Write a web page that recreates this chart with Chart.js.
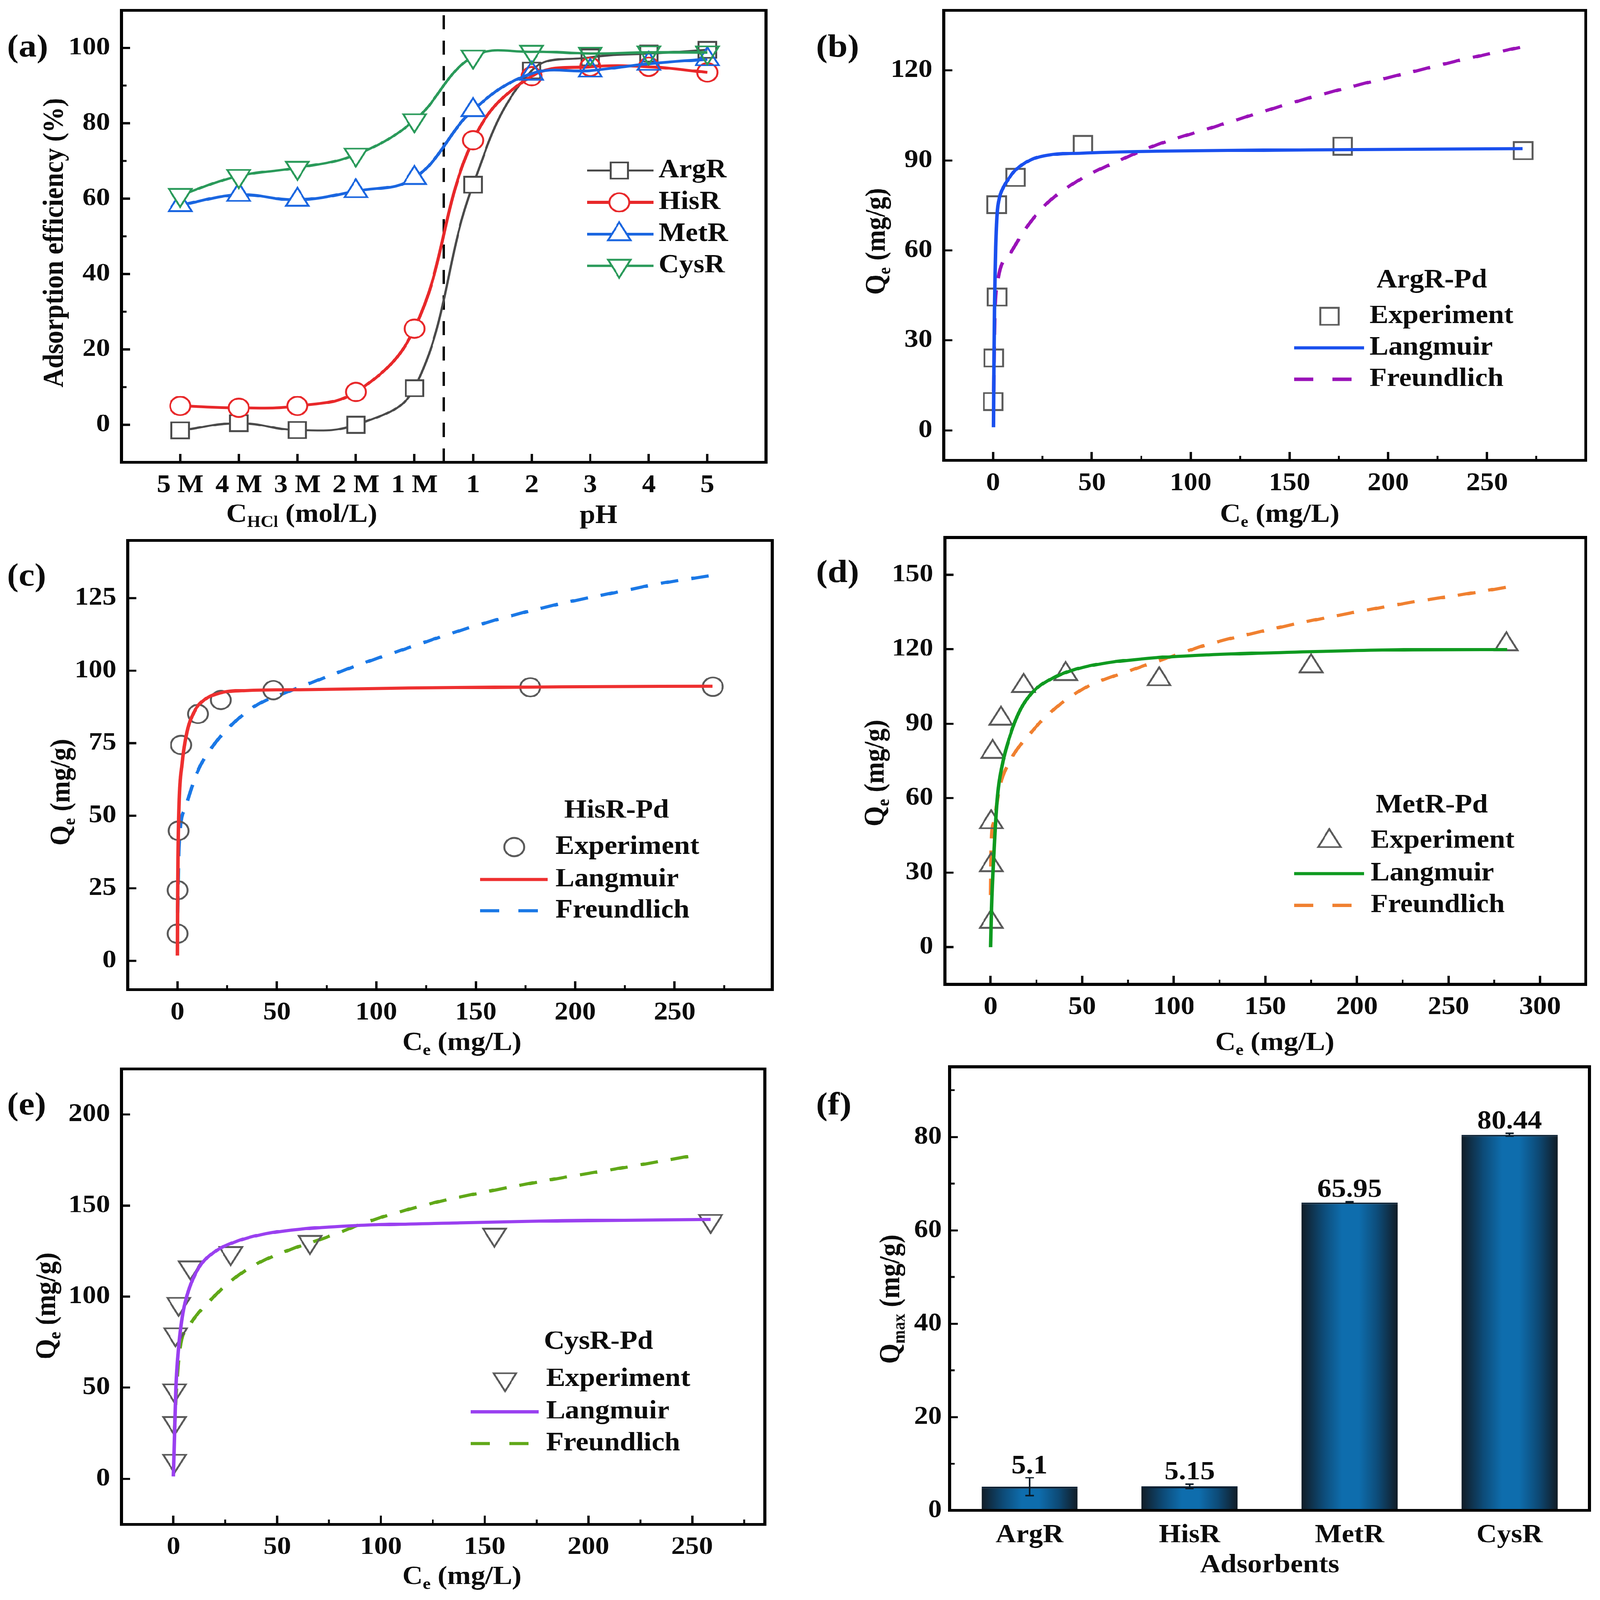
<!DOCTYPE html>
<html><head><meta charset="utf-8">
<style>html,body{margin:0;padding:0;background:#fff;overflow:hidden}
#page{position:absolute;left:0;top:0;width:4157px;height:4522px;background:#fff;overflow:hidden;transform-origin:0 0}
canvas{position:absolute;display:block}</style>
<script src="https://cdn.jsdelivr.net/npm/chart.js@4/dist/chart.umd.js"></script>
</head><body><div id="page"></div>
<script>
// ---------- panel (a)
const aCategories=['5 M','4 M','3 M','2 M','1 M','1','2','3','4','5'];
const aArgR=[-1.5,0.4,-1.4,0,9.7,63.7,94,97.5,98.5,99.5];
const aHisR=[5,4.5,5,8.7,25.5,75.5,92.5,95,95,93.5];
const aMetR=[58.3,61,59.7,62,65.5,83.5,93.2,94,95.8,97];
const aCysR=[61,66,68.2,71.7,80.8,97.7,99,98.5,98.8,98.8];
const aYTicks=[0,20,40,60,80,100];
const aDivider=4.5;
// ---------- panel (b)
const bExpX=[0,0.3,2,1.8,11.3,45.5,177,268.3];
const bExpY=[9.6,24.1,44.4,75.2,84.3,95.3,94.7,93.2];
const bLangX=[0.2,0.4,0.7,1,1.3,2,3,5,8,11.3,18.8,29,44.5,83,160,268];
const bLangY=[1,20,40,52,61,72,77,80.8,84,86.7,90.1,91.8,92.4,93,93.5,93.9];
const bFreuX=[0.3,0.8,2,8.5,16.2,26.5,44.5,62.5,83,108.8,134.5,160,186,211.7,237.4,268];
const bFreuY=[13,36,48.4,58.7,67,75.2,83.8,89.5,95.2,100.5,105.8,110.8,115.3,119.4,123.5,127.8];
const bYTicks=[0,30,60,90,120];
const bXTicks=[0,50,100,150,200,250];
// ---------- panel (c)
const cExpX=[0,0,0.5,1.8,10.3,21.8,48.2,177.4,269.2];
const cExpY=[9.3,24.3,44.8,74.4,85.1,89.9,93.3,94.3,94.5];
const cLangX=[0,0.1,0.3,0.8,2.3,4.6,8.5,13.6,21.3,34,65,116,193,269];
const cLangY=[1.8,18.3,36,53.7,67.8,78.4,86,90,92.3,93.2,93.5,94,94.5,94.7];
const cFreuX=[0.1,0.8,3.8,9.7,17.4,26.4,39.2,54.6,70,90.5,116,141.8,167.4,193,218.7,244.4,270];
const cFreuY=[16.5,39.5,52.5,64.6,73.7,80.8,87.9,92.5,96.6,101.9,107.9,113.8,118.9,123.2,126.8,130.3,133];
const cYTicks=[0,25,50,75,100,125];
const cXTicks=[0,50,100,150,200,250];
// ---------- panel (d)
const dExpX=[0.3,0.3,0.3,1.1,5.6,18,41,92,175,281.6];
const dExpY=[10.2,33,50.3,78.6,92,105.2,110,107.9,113.1,122];
const dLangX=[0,0.5,1.7,3.6,6.4,10.6,16.2,23,33,46.8,63.5,91.4,119,175,230.6,282];
const dLangY=[0,15.7,36.5,60,73.8,85.2,95.6,102.8,108,112,114.5,116.6,117.7,119,119.8,119.9];
const dFreuX=[0,0.3,1.7,5,10.6,21.7,35.7,52.4,74.7,97,119,147,175,202.8,230.6,258.5,282];
const dFreuY=[21,40.6,50.3,64.9,75,86.2,96.5,104.8,111,116.6,122,127,131.5,135.4,139,142.1,145];
const dYTicks=[0,30,60,90,120,150];
const dXTicks=[0,50,100,150,200,250,300];
// ---------- panel (e)
const eExpX=[0.5,0.5,0.5,1,2.5,8.1,27.6,65.8,154.7,258.9];
const eExpY=[9.8,30.6,48.5,79.3,96,116,123.9,130,134,141.5];
const eLangX=[0,0.5,1.2,2.5,4.4,7.4,12.3,19.7,29.6,44.3,64,88.7,138,187,258.9];
const eLangY=[1.3,21,49.5,72,90,104,116,124.5,130,134.5,137.3,139,140.5,141.6,142.4];
const eFreuX=[0.5,1.2,3,7.4,16,27,39.4,56.7,73.9,96,125.6,152.7,187,211.8,250];
const eFreuY=[25,43.8,70.3,83.5,95.8,108,117.5,126,132.6,142,151.5,158,165.2,169.8,177.3];
const eYTicks=[0,50,100,150,200];
const eXTicks=[0,50,100,150,200,250];
// ---------- panel (f)
const fCategories=['ArgR','HisR','MetR','CysR'];
const fValues=[5.1,5.15,65.95,80.44];
const fErrors=[1.9,0.5,0.15,0.3];
const fValueLabels=['5.1','5.15','65.95','80.44'];
const fYTicks=[0,20,40,60,80];

document.getElementById('page').style.transform=`scale(${innerWidth/4157},${innerHeight/4522})`;

const FONT='"Liberation Serif"';
const INK='#0c0c0c';
const xy=(X,Y)=>X.map((x,i)=>({x,y:Y[i]}));
const multiples=(step,to)=>{const r=[];for(let v=step;v<to;v+=step*2)r.push(v);return r;};

function rich(ctx,segs,x,y,size,rot){
  ctx.save();ctx.translate(x,y);if(rot)ctx.rotate(rot);
  ctx.fillStyle=INK;ctx.textBaseline='alphabetic';ctx.textAlign='left';
  let w=0;
  segs.forEach(s=>{ctx.font=`bold ${s.sub?size*0.62:size}px ${FONT}`;w+=ctx.measureText(s.t).width;});
  let cx=-w/2;const base=size*0.32;
  segs.forEach(s=>{ctx.font=`bold ${s.sub?size*0.62:size}px ${FONT}`;
    ctx.fillText(s.t,cx,base+(s.sub?size*0.2:0));cx+=ctx.measureText(s.t).width;});
  ctx.restore();
}

function decorPlugin(p){
  return {id:'decor',afterDraw(chart){
    const c=chart.ctx,a=chart.chartArea,ox=p.canvas[0],oy=p.canvas[1];
    c.save();
    c.strokeStyle=INK;c.lineWidth=5;
    (p.minorX||[]).forEach(v=>{const px=chart.scales.x.getPixelForValue(v);c.beginPath();c.moveTo(px,a.bottom);c.lineTo(px,a.bottom-13);c.stroke();});
    (p.minorY||[]).forEach(v=>{const py=chart.scales.y.getPixelForValue(v);c.beginPath();c.moveTo(a.left,py);c.lineTo(a.left+13,py);c.stroke();});
    if(p.errors){
      const ys=chart.scales.y,xs=chart.scales.x;
      p.errors.forEach((e,i)=>{
        const px=xs.getPixelForValue(i),hi=ys.getPixelForValue(fValues[i]+e),lo=ys.getPixelForValue(fValues[i]-e);
        c.strokeStyle='#0a1a26';c.lineWidth=4;c.beginPath();
        c.moveTo(px,hi);c.lineTo(px,lo);c.moveTo(px-11,hi);c.lineTo(px+11,hi);c.moveTo(px-11,lo);c.lineTo(px+11,lo);c.stroke();
        c.fillStyle=INK;c.font=`bold 75px ${FONT}`;c.textAlign='center';c.textBaseline='alphabetic';
        c.fillText(p.valueLabels[i],px,hi-13);
      });
    }
    c.strokeStyle='#000';c.lineWidth=8;
    c.strokeRect(a.left,a.top,a.right-a.left,a.bottom-a.top);
    if(p.legend){
      const L=p.legend;
      if(L.title){c.fillStyle=INK;c.font=`bold 74px ${FONT}`;c.textAlign='center';c.textBaseline='middle';c.fillText(L.title,L.titleX-ox,L.titleY-oy);}
      let row=0;
      chart.data.datasets.forEach(ds=>{
        if(!ds.label)return;
        const y=L.rows[row++]-oy;
        if(ds.showLine!==false){
          c.strokeStyle=ds.borderColor;c.lineWidth=ds.borderWidth;
          c.setLineDash(ds.borderDash&&ds.borderDash.length?[50,50]:[]);
          c.beginPath();c.moveTo(L.lineX[0]-ox,y);c.lineTo(L.lineX[1]-ox,y);c.stroke();c.setLineDash([]);
        }
        if(ds.pointRadius){
          c.fillStyle='#fff';c.strokeStyle=ds.pointBorderColor;c.lineWidth=ds.pointBorderWidth;
          Chart.helpers.drawPoint(c,{pointStyle:ds.pointStyle,radius:ds.pointRadius,borderWidth:ds.pointBorderWidth,rotation:ds.pointRotation||0},L.markerX-ox,y);
        }
        c.fillStyle=INK;c.font=`bold 74px ${FONT}`;c.textAlign='left';c.textBaseline='middle';
        c.fillText(ds.label,L.textX-ox,y);
      });
    }
    c.restore();
    c.save();c.fillStyle=INK;c.font=`bold 92px ${FONT}`;c.textAlign='left';c.textBaseline='middle';
    c.fillText(p.tag[0],p.tag[1]-ox,p.tag[2]-oy);c.restore();
    p.titles.forEach(t=>rich(c,t.segs,t.x-ox,t.y-oy,74,t.vertical?-Math.PI/2:0));
  }};
}

function makePanel(p){
  const cv=document.createElement('canvas');
  const [ox,oy,W,H]=p.canvas;
  cv.width=W;cv.height=H;
  cv.style.cssText=`left:${ox}px;top:${oy}px;width:${W}px;height:${H}px`;
  document.getElementById('page').appendChild(cv);
  const [bl,bt,br,bb]=p.box;
  const tickFont={family:FONT,size:72,weight:'bold'};
  const setTicks=v=>s=>{s.ticks=v.map(value=>({value}));};
  const xFit=s=>{s.height=oy+H-bb;s.paddingLeft=0;s.paddingRight=0;};
  const yFit=s=>{s.width=bl-ox;s.paddingTop=0;s.paddingBottom=0;};
  const xScale=Object.assign({
    type:'linear',min:p.xRange&&p.xRange[0],max:p.xRange&&p.xRange[1],
    afterBuildTicks:p.xTicks?setTicks(p.xTicks):undefined,
    afterFit:xFit,
    border:{display:false},
    grid:{drawOnChartArea:false,drawTicks:true,tickLength:-24,tickWidth:6,tickColor:'#000'},
    ticks:{font:tickFont,color:INK,padding:p.xPad||46,maxRotation:0,autoSkip:false,
      callback:p.xLabel||(v=>String(v))}
  },p.xOverride||{});
  const yScale={
    type:'linear',min:p.yRange[0],max:p.yRange[1],
    afterBuildTicks:setTicks(p.yTicks),
    afterFit:yFit,
    border:{display:false},
    grid:{drawOnChartArea:false,drawTicks:true,tickLength:-22,tickWidth:6,tickColor:'#000'},
    ticks:{font:tickFont,color:INK,padding:p.yPad||52,autoSkip:false,callback:v=>String(v)}
  };
  return new Chart(cv,{
    type:p.type||'scatter',
    data:p.data,
    options:{
      responsive:false,animation:false,devicePixelRatio:1,
      layout:{autoPadding:false,padding:{left:0,top:bt-oy,right:ox+W-br,bottom:0}},
      scales:{x:xScale,y:yScale},
      plugins:{legend:{display:false},title:{display:false},tooltip:{enabled:false}}
    },
    plugins:[decorPlugin(p)]
  });
}

const lineStyle=(label,X,Y,color,order,dash)=>({label,data:xy(X,Y),showLine:true,borderColor:color,borderWidth:9,
  borderDash:dash?[46,34]:[],pointRadius:0,cubicInterpolationMode:'monotone',order});
const expStyle=(X,Y,style,r,rot)=>({label:'Experiment',data:xy(X,Y),showLine:false,pointStyle:style,pointRadius:r,
  pointRotation:rot||0,pointBorderColor:'#5a5a5a',pointBorderWidth:5,pointBackgroundColor:'rgba(0,0,0,0)',order:1});
const aFill=aCategories.map((c,i)=>i<=5?'#fff':'rgba(255,255,255,0)');
const aLine=(label,Y,color,style,r,rot,order,lw)=>({label,data:Y.map((y,i)=>({x:i,y})),showLine:true,borderColor:color,borderWidth:lw,
  tension:0.4,pointStyle:style,pointRadius:r,pointRotation:rot,pointBorderColor:color,pointBorderWidth:5,pointBackgroundColor:aFill,order});

const sub=(a,b,c)=>[{t:a},{t:b,sub:true},{t:c}];

makePanel({canvas:[0,0,2080,1500],box:[316,29,1990,1307],xRange:[-1,10],yRange:[-10,110],
  xTicks:aCategories.map((c,i)=>i),yTicks:aYTicks,xLabel:v=>aCategories[v],minorY:multiples(10,100),
  tag:['(a)',18,136],
  titles:[{segs:[{t:'Adsorption efficiency (%)'}],x:139,y:686,vertical:true},
    {segs:sub('C','HCl',' (mol/L)'),x:784,y:1451},{segs:[{t:'pH'}],x:1555,y:1454}],
  legend:{rows:[482,572,662,751],lineX:[1525,1698],markerX:1609,textX:1711},
  data:{datasets:[
    aLine('ArgR',aArgR,'#4a4a4a','rect',32,0,3,6),
    aLine('HisR',aHisR,'#e8282a','circle',26,0,2,8),
    aLine('MetR',aMetR,'#1a66e0','triangle',34,0,1,8),
    aLine('CysR',aCysR,'#2a9a5a','triangle',34,180,0,7),
    {data:[{x:aDivider,y:-10},{x:aDivider,y:110}],showLine:true,borderColor:'#000',borderWidth:6,borderDash:[40,32],pointRadius:0,order:4}
  ]}});

makePanel({canvas:[2080,0,2077,1500],box:[2452,29,4120,1301],xRange:[-25,300],yRange:[-10,140],
  xTicks:bXTicks,yTicks:bYTicks,minorX:multiples(25,300),tag:['(b)',2120,136],
  titles:[{segs:sub('Q','e',' (mg/g)'),x:2275,y:682,vertical:true},{segs:sub('C','e',' (mg/L)'),x:3325,y:1451}],
  legend:{title:'ArgR-Pd',titleX:3720,titleY:793,rows:[894,983,1072],lineX:[3362,3544],markerX:3454,textX:3558},
  data:{datasets:[expStyle(bExpX,bExpY,'rect',34),lineStyle('Langmuir',bLangX,bLangY,'#1a50ee',0),lineStyle('Freundlich',bFreuX,bFreuY,'#9a12b8',2,true)]}});

makePanel({canvas:[0,1500,2080,1500],box:[332,1527,2006,2797],xRange:[-25,299],yRange:[-10,145],
  xTicks:cXTicks,yTicks:cYTicks,minorX:multiples(25,299),tag:['(c)',18,1631],
  titles:[{segs:sub('Q','e',' (mg/g)'),x:157,y:2239,vertical:true},{segs:sub('C','e',' (mg/L)'),x:1200,y:2944}],
  legend:{title:'HisR-Pd',titleX:1602,titleY:2292,rows:[2394,2486,2574],lineX:[1247,1423],markerX:1336,textX:1443},
  data:{datasets:[expStyle(cExpX,cExpY,'circle',26),lineStyle('Langmuir',cLangX,cLangY,'#ee3030',0),lineStyle('Freundlich',cFreuX,cFreuY,'#1a78e6',2,true)]}});

makePanel({canvas:[2080,1500,2077,1500],box:[2455,1519,4120,2782],xRange:[-25,325],yRange:[-15,165],
  xTicks:dXTicks,yTicks:dYTicks,minorX:multiples(25,300),tag:['(d)',2120,1621],
  titles:[{segs:sub('Q','e',' (mg/g)'),x:2272,y:2185,vertical:true},{segs:sub('C','e',' (mg/L)'),x:3312,y:2944}],
  legend:{title:'MetR-Pd',titleX:3720,titleY:2277,rows:[2377,2469,2559],lineX:[3362,3544],markerX:3454,textX:3561},
  data:{datasets:[expStyle(dExpX,dExpY,'triangle',34),lineStyle('Langmuir',dLangX,dLangY,'#0f9a20',0),lineStyle('Freundlich',dFreuX,dFreuY,'#f08030',2,true)]}});

makePanel({canvas:[0,3000,2080,1522],box:[316,3021,1987,4308],xRange:[-25,285],yRange:[-25,225],
  xTicks:eXTicks,yTicks:eYTicks,minorX:multiples(25,285),tag:['(e)',18,3126],
  titles:[{segs:sub('Q','e',' (mg/g)'),x:119,y:3691,vertical:true},{segs:sub('C','e',' (mg/L)'),x:1200,y:4453}],
  legend:{title:'CysR-Pd',titleX:1555,titleY:3793,rows:[3898,3990,4080],lineX:[1223,1400],markerX:1312,textX:1419},
  data:{datasets:[expStyle(eExpX,eExpY,'triangle',34,180),lineStyle('Langmuir',eLangX,eLangY,'#9a40f0',0),lineStyle('Freundlich',eFreuX,eFreuY,'#60a818',2,true)]}});

const barGrad=ctx=>{
  const ch=ctx.chart;if(!ch.chartArea)return '#0e6dad';
  const xs=ch.scales.x,step=xs.getPixelForValue(1)-xs.getPixelForValue(0),
    cx=xs.getPixelForValue(ctx.dataIndex),hw=step*0.3;
  const g=ch.ctx.createLinearGradient(cx-hw,0,cx+hw,0);
  g.addColorStop(0,'#111c26');g.addColorStop(0.22,'#0d4a76');g.addColorStop(0.42,'#0e6dad');
  g.addColorStop(0.6,'#0e6dad');g.addColorStop(0.8,'#0d4a76');g.addColorStop(1,'#111c26');
  return g;
};
makePanel({type:'bar',canvas:[2080,3000,2077,1522],box:[2467,3015,4130,4269],yRange:[0,95],yTicks:fYTicks,
  minorY:multiples(10,95),yPad:42,errors:fErrors,valueLabels:fValueLabels,tag:['(f)',2120,3126],
  xOverride:{type:'category',offset:true,min:undefined,max:undefined,afterBuildTicks:undefined,
    grid:{drawOnChartArea:false,drawTicks:false},
    ticks:{font:{family:FONT,size:74,weight:'bold'},color:INK,padding:26,maxRotation:0,autoSkip:false}},
  titles:[{segs:sub('Q','max',' (mg/g)'),x:2312,y:3672,vertical:true},{segs:[{t:'Adsorbents'}],x:3299,y:4420}],
  data:{labels:fCategories,datasets:[{data:fValues,backgroundColor:barGrad,barPercentage:0.6,categoryPercentage:1,
    borderColor:'#0b2033',borderWidth:{top:5,left:0,right:0,bottom:0},borderSkipped:false}]}});
</script></body></html>
